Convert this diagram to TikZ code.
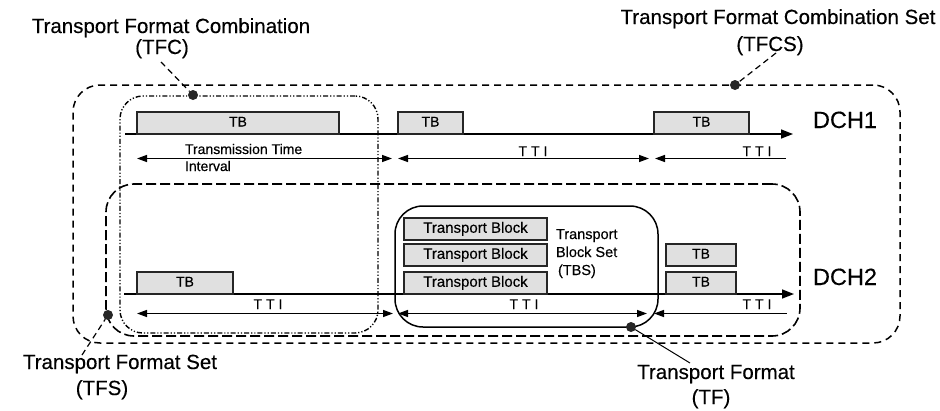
\documentclass[tikz,border=0pt]{standalone}
\usepackage{fontspec}
\setmainfont[FakeBold=0.3]{Liberation Sans}
\usetikzlibrary{arrows.meta}
\begin{document}
\begin{tikzpicture}[x=1pt,y=-1pt,
  every node/.style={inner sep=0pt, outer sep=0pt},
  >={Triangle[length=10pt,width=7pt]},
  big/.style={font=\fontsize{20.5}{22}\selectfont, anchor=base},
  dchlabel/.style={font=\fontsize{23.5}{26}\selectfont, anchor=base},
  ttilabel/.style={font=\fontsize{14}{16}\selectfont, anchor=base},
  note/.style={font=\fontsize{14.5}{18}\selectfont, anchor=base west},
  tb/.style={draw=black!85, line width=1.1pt, fill=black!12, anchor=south west,
    font=\fontsize{14}{16}\selectfont, text height=10pt, text depth=3pt},
  tbl/.style={tb, font=\fontsize{15}{17}\selectfont, text height=10.5pt, text depth=3pt},
  tfcsbox/.style={draw, line width=1.5pt, rounded corners=27pt, dash pattern=on 7pt off 5pt, anchor=north west},
  tfsbox/.style={draw, line width=1.6pt, rounded corners=28pt, dash pattern=on 10pt off 4pt, anchor=north west},
  tfcbox/.style={draw, line width=1.4pt, rounded corners=23pt, dash pattern=on 5pt off 2pt on 1.2pt off 2pt on 1.2pt off 2pt, anchor=north west},
  tfbox/.style={draw, line width=1.5pt, rounded corners=28pt, anchor=north west},
  dot/.style={circle, fill=black!85, minimum size=10pt},
  leader/.style={line width=1.2pt, dash pattern=on 6pt off 4pt},
  tline/.style={line width=1.6pt},
  tti/.style={line width=1.4pt}
]
\useasboundingbox (0,0) rectangle (940,410);

% ---- grouping boxes
\node[tfcsbox, minimum width=827pt, minimum height=258pt] (tfcs) at (73,85) {};
\node[tfsbox, minimum width=694pt, minimum height=152pt] (tfs) at (106,184) {};
\node[tfcbox, minimum width=258pt, minimum height=237pt] (tfc) at (120,96) {};
\node[tfbox, minimum width=263pt, minimum height=121pt] (tf) at (395,206) {};

% ---- DCH1
\coordinate (d1s) at (125,134);
\coordinate (d1e) at (793,134);
\draw[tline,->,>={Triangle[length=12pt,width=9pt]}] (d1s) -- (d1e);
\node[tb, minimum width=202pt, minimum height=22pt] (tb11) at (137,134) {TB};
\node[tb, minimum width=65pt, minimum height=22pt] (tb12) at (398,134) {TB};
\node[tb, minimum width=95pt, minimum height=22pt] (tb13) at (654,134) {TB};
\node[dchlabel] (dch1) at (845,128) {DCH1};

\coordinate (a1) at (137,158.5);
\coordinate (a2) at (392,158.5);
\coordinate (a3) at (398,158.5);
\coordinate (a4) at (649,158.5);
\coordinate (a5) at (655,158.5);
\coordinate (a6) at (786,158.5);
\draw[tti,<->] (a1) -- (a2);
\draw[tti,<->] (a3) -- (a4);
\draw[tti,<-] (a5) -- (a6);
\node[note, font=\fontsize{14}{17}\selectfont] (tti1a) at (185,154) {Transmission Time};
\node[note, font=\fontsize{14}{17}\selectfont] (tti1b) at (185,171) {Interval};
\node[ttilabel] (tti12) at (533,156) {T\hspace{4pt}T\hspace{4pt}I};
\node[ttilabel] (tti13) at (757,156) {T\hspace{4pt}T\hspace{4pt}I};

% ---- DCH2
\coordinate (d2s) at (124,294);
\coordinate (d2e) at (794,294);
\draw[tline,->,>={Triangle[length=12pt,width=9pt]}] (d2s) -- (d2e);
\node[tb, minimum width=96pt, minimum height=22pt] (tb21) at (137,294) {TB};
\node[tbl, minimum width=143pt, minimum height=22pt] (tbk1) at (404,240) {Transport Block};
\node[tbl, minimum width=143pt, minimum height=22pt] (tbk2) at (404,266) {Transport Block};
\node[tbl, minimum width=143pt, minimum height=22pt] (tbk3) at (404,294) {Transport Block};
\node[tb, minimum width=70pt, minimum height=22pt] (tb22) at (666,266) {TB};
\node[tb, minimum width=70pt, minimum height=22pt] (tb23) at (666,294) {TB};
\node[dchlabel] (dch2) at (845,285) {DCH2};
\node[note] (tbs1) at (556,239) {Transport};
\node[note] (tbs2) at (556,257) {Block Set};
\node[note] (tbs3) at (558,275) {(TBS)};

\coordinate (b1) at (137,313.5);
\coordinate (b2) at (393,313.5);
\coordinate (b3) at (398,313.5);
\coordinate (b4) at (647,313.5);
\coordinate (b5) at (654,313.5);
\coordinate (b6) at (787,313.5);
\draw[tti,<->] (b1) -- (b2);
\draw[tti,<->] (b3) -- (b4);
\draw[tti,<-] (b5) -- (b6);
\node[ttilabel] (tti21) at (268,309) {T\hspace{4pt}T\hspace{4pt}I};
\node[ttilabel] (tti22) at (524,309) {T\hspace{4pt}T\hspace{4pt}I};
\node[ttilabel] (tti23) at (757,309) {T\hspace{4pt}T\hspace{4pt}I};

% ---- callouts
\node[big] (tfclab) at (171,33) {Transport Format Combination};
\node[big] (tfclab2) at (162,54) {(TFC)};
\node[dot] (tfcdot) at (193,95) {};
\coordinate (tfcl) at (161,62);
\draw[leader] (tfcl) -- (tfcdot);

\node[big] (tfcslab) at (778,24) {Transport Format Combination Set};
\node[big] (tfcslab2) at (770,51) {(TFCS)};
\node[dot] (tfcsdot) at (735,85) {};
\coordinate (tfcsl) at (776,53);
\draw[leader] (tfcsl) -- (tfcsdot);

\node[big] (tfslab) at (120,369) {Transport Format Set};
\node[big] (tfslab2) at (102,395) {(TFS)};
\node[dot] (tfsdot) at (108,315) {};
\coordinate (tfsl) at (82,355);
\draw[leader] (tfsl) -- (tfsdot);

\node[big] (tflab) at (716,379) {Transport Format};
\node[big] (tflab2) at (711,404) {(TF)};
\node[dot] (tfdot) at (631,327) {};
\coordinate (tfl) at (690,363);
\draw[line width=1pt] (tfl) -- (tfdot);
\end{tikzpicture}
\end{document}
